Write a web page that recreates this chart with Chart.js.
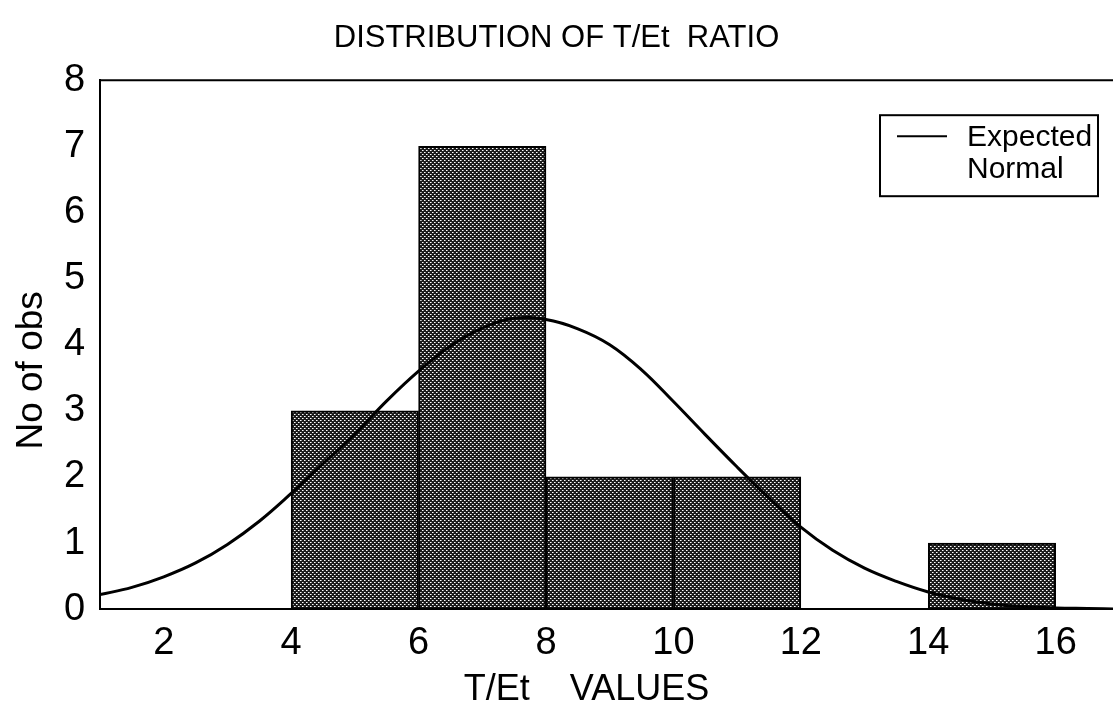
<!DOCTYPE html>
<html>
<head>
<meta charset="utf-8">
<script src="https://cdn.jsdelivr.net/npm/chart.js@4"></script>
<style>
    body { margin: 0; background: #fff; }
    #wrap { position: relative; width: 1113px; height: 727px; }
</style>
</head>
<body>
<div id="wrap"><canvas id="histo"></canvas></div>
<script>
// histogram bins (centre of each 2-wide class) and counts
const binCentres = [5, 7, 9, 11, 15];
const binCounts = [3, 7, 2, 2, 1];

// expected normal curve
const curveX = [1, 1.5, 2, 2.5, 3, 3.5, 4, 4.5, 5, 5.5, 6, 6.5, 7, 7.5, 8, 8.5,
    9, 9.5, 10, 10.5, 11, 11.5, 12, 12.5, 13, 13.5, 14, 14.5, 15, 15.5, 16, 16.5, 17];
const curveY = [0.22, 0.33, 0.49, 0.7, 0.98, 1.33, 1.75, 2.2, 2.65, 3.15, 3.6, 3.98, 4.25, 4.4, 4.38, 4.24,
    4.0, 3.62, 3.14, 2.64, 2.15, 1.68, 1.24, 0.89, 0.62, 0.42, 0.26, 0.15, 0.08, 0.04, 0.02, 0.01, 0];

const xTicks = [2, 4, 6, 8, 10, 12, 14, 16];
const yTicks = [0, 1, 2, 3, 4, 5, 6, 7, 8];

const FONT = "'Liberation Sans', Arial, Helvetica, sans-serif";

// stippled fill like the old statistica bars
function makePattern() {
    const c = document.createElement('canvas');
    c.width = 4;
    c.height = 4;
    const g = c.getContext('2d');
    g.fillStyle = '#1c1c1c';
    g.fillRect(0, 0, 4, 4);
    g.fillStyle = '#ffffff';
    g.fillRect(0, 0, 1, 1);
    g.fillRect(2, 2, 1, 1);
    g.fillStyle = '#9a9a9a';
    g.fillRect(1, 0, 1, 1);
    g.fillRect(3, 2, 1, 1);
    return g.createPattern(c, 'repeat');
}

// top border + boxed legend
const frameAndLegend = {
    id: 'frameAndLegend',
    afterDraw(chart) {
        const ctx = chart.ctx;
        const a = chart.chartArea;
        ctx.save();
        ctx.strokeStyle = '#000';
        ctx.lineWidth = 2;
        ctx.beginPath();
        ctx.moveTo(a.left, a.top);
        ctx.lineTo(a.right, a.top);
        ctx.stroke();

        // legend box
        const bx = a.right - 233, by = a.top + 35, bw = 218, bh = 81;
        ctx.fillStyle = '#fff';
        ctx.fillRect(bx, by, bw, bh);
        ctx.strokeRect(bx, by, bw, bh);
        ctx.beginPath();
        ctx.moveTo(bx + 17, by + 21);
        ctx.lineTo(bx + 67, by + 21);
        ctx.stroke();
        ctx.fillStyle = '#000';
        ctx.font = '30px ' + FONT;
        ctx.textBaseline = 'middle';
        ctx.textAlign = 'left';
        ctx.fillText('Expected', bx + 87, by + 23);
        ctx.fillText('Normal', bx + 87, by + 55);
        ctx.restore();
    }
};

const ctx = document.getElementById('histo').getContext('2d');
const chart = new Chart(ctx, {
    data: {
        datasets: [
            {
                type: 'line',
                label: 'Expected Normal',
                data: curveX.map((x, i) => ({ x: x, y: curveY[i] })),
                borderColor: '#000',
                borderWidth: 3,
                pointRadius: 0,
                tension: 0.4,
                fill: false,
            },
            {
                type: 'bar',
                label: 'No of obs',
                data: binCentres.map((x, i) => ({ x: x, y: binCounts[i] })),
                backgroundColor: makePattern(),
                borderColor: '#000',
                borderWidth: 2,
                borderSkipped: false,
                barPercentage: 1.0,
                categoryPercentage: 1.0,
            },
        ],
    },
    options: {
        responsive: true,
        maintainAspectRatio: false,
        animation: false,
        layout: { padding: 0 },
        plugins: {
            legend: { display: false },
            tooltip: { enabled: false },
            title: {
                display: true,
                text: 'DISTRIBUTION OF T/Et  RATIO',
                color: '#000',
                font: { family: FONT, size: 31, weight: 'normal' },
                padding: { top: 20, bottom: 23 },
            },
        },
        scales: {
            x: {
                type: 'linear',
                min: 1,
                max: 16.9,
                offset: false,
                afterBuildTicks: (axis) => {
                    axis.ticks = xTicks.map((v) => ({ value: v }));
                },
                grid: { display: false, drawTicks: false },
                border: { display: true, color: '#000', width: 2 },
                ticks: {
                    color: '#000',
                    padding: 12,
                    font: { family: FONT, size: 38 },
                },
                title: {
                    display: true,
                    text: 'T/Et    VALUES    ',
                    color: '#000',
                    font: { family: FONT, size: 36 },
                    // chart.js counts tick padding twice, so pull the title back up
                    padding: { top: -10, bottom: 15 },
                },
            },
            y: {
                min: 0,
                max: 8,
                afterBuildTicks: (axis) => {
                    axis.ticks = yTicks.map((v) => ({ value: v }));
                },
                grid: { display: false, drawTicks: false },
                border: { display: true, color: '#000', width: 2 },
                ticks: {
                    color: '#000',
                    padding: 15,
                    font: { family: FONT, size: 38 },
                },
                title: {
                    display: true,
                    text: 'No of obs     ',
                    color: '#000',
                    font: { family: FONT, size: 37 },
                    padding: { top: 10, bottom: -5.5 },
                },
            },
        },
    },
    plugins: [frameAndLegend],
});
</script>
</body>
</html>
